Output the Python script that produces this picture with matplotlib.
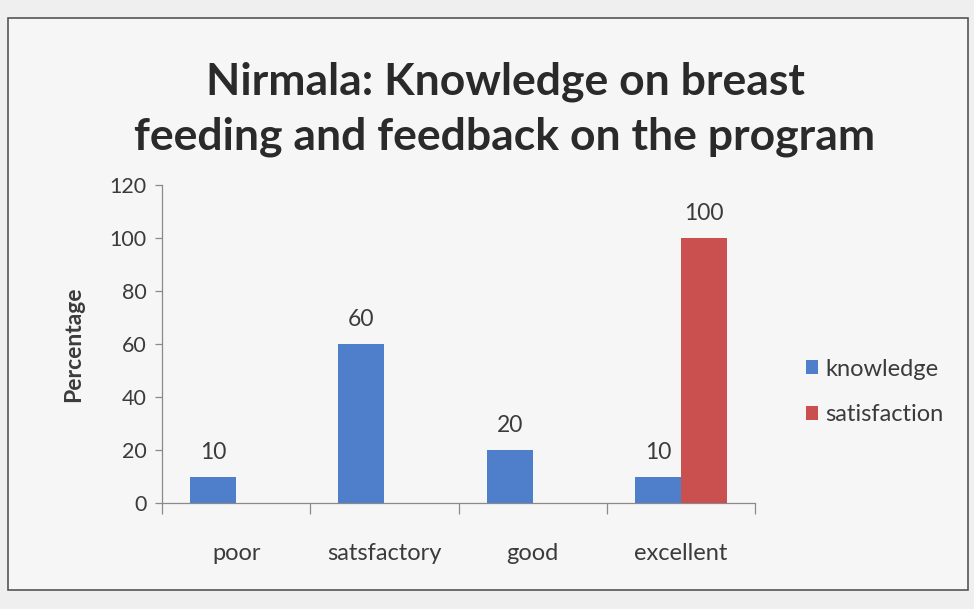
import matplotlib
matplotlib.use("Agg")
import matplotlib.pyplot as plt
import numpy as np
from matplotlib.patches import Rectangle

plt.rcParams['font.family'] = ['Lato', 'DejaVu Sans']

categories = ["poor", "satsfactory", "good", "excellent"]
knowledge = [10, 60, 20, 10]
satisfaction = [0, 0, 0, 100]
series_names = ["knowledge", "satisfaction"]
y_ticks = [0, 20, 40, 60, 80, 100, 120]
title = "Nirmala: Knowledge on breast\nfeeding and feedback on the program"

blue = "#4f7fcb"
red = "#c9504e"
text_col = "#3b3b3b"
axis_col = "#8a8a8a"

fig = plt.figure(figsize=(9.74, 6.09), dpi=100, facecolor="#efefef")

# chart frame
fig.patches.append(Rectangle((8 / 974, 1 - 590 / 609), 960 / 974, 572 / 609,
                             transform=fig.transFigure, facecolor="#f6f6f6",
                             edgecolor="#555555", linewidth=1.2, zorder=-10))

ax = fig.add_axes([162 / 974, 1 - 503 / 609, 593 / 974, 318 / 609])
ax.set_facecolor("none")

x = np.arange(len(categories))
w = 0.31
b1 = ax.bar(x - w / 2, knowledge, w, color=blue, label=series_names[0], zorder=3)
b2 = ax.bar(x + w / 2, satisfaction, w, color=red, label=series_names[1], zorder=3)

for bars, vals in ((b1, knowledge), (b2, satisfaction)):
    for rect, v in zip(bars, vals):
        if v:
            ax.annotate(f"{v}", (rect.get_x() + rect.get_width() / 2, v),
                        xytext=(0, 10), textcoords="offset points",
                        ha="center", va="bottom", fontsize=16.5, color=text_col)

ax.set_xlim(-0.5, len(categories) - 0.5)
ax.set_ylim(0, 120)
ax.set_yticks(y_ticks)
ax.tick_params(axis="y", length=5, width=0.9, color=axis_col, labelsize=15.5,
               labelcolor=text_col, pad=6)

# category labels sit between boundary ticks
ax.set_xticks(np.arange(-0.5, len(categories), 1.0))
ax.set_xticklabels([])
ax.set_xticks(x, minor=True)
ax.set_xticklabels(categories, minor=True)
ax.tick_params(axis="x", which="major", length=8, width=0.9, color=axis_col)
ax.tick_params(axis="x", which="minor", length=0, labelsize=17,
               labelcolor=text_col, pad=29)

for s in ("top", "right"):
    ax.spines[s].set_visible(False)
for s in ("left", "bottom"):
    ax.spines[s].set_color(axis_col)
    ax.spines[s].set_linewidth(0.9)

ax.set_ylabel("Percentage", fontsize=16.5, fontweight="bold", color=text_col,
              labelpad=18)

fig.text(505 / 974, 1 - 109 / 609, title, ha="center", va="center",
         fontsize=32, fontweight="bold", color="#2a2a2a", linespacing=1.45)

leg = fig.legend(handles=[b1, b2], labels=series_names, loc="center left",
                 bbox_to_anchor=(785 / 974, 1 - 392 / 609), frameon=False,
                 fontsize=17, handlelength=0.5, handleheight=0.5,
                 handletextpad=0.3, labelspacing=1.05, labelcolor=text_col)

fig.savefig("out.png", dpi=100, facecolor=fig.get_facecolor())
